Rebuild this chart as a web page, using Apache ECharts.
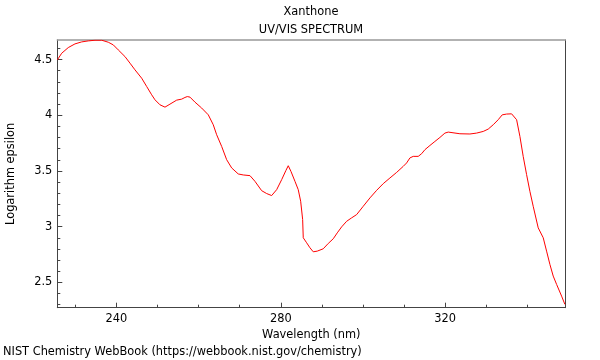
<!DOCTYPE html>
<html>
<head>
<meta charset="utf-8">
<script src="https://cdn.jsdelivr.net/npm/echarts@6/dist/echarts.min.js"></script>
<style>html,body{margin:0;padding:0;background:#fff}#c{width:600px;height:360px}</style>
</head>
<body>
<div id="c"></div>
<script>
const wavelength = [225.65,226.72,228.32,229.95,231.58,233.19,234.82,236.45,238.05,239.27,240.48,242.11,243.33,244.54,246.17,247.39,248.60,249.41,250.62,251.84,253.05,254.68,255.90,256.70,257.26,257.92,259.13,260.76,262.37,263.58,264.41,265.63,266.84,268.06,269.66,270.88,272.51,273.72,275.35,276.57,277.78,279.00,280.22,281.26,281.82,282.48,283.45,284.25,284.84,285.32,285.47,286.29,287.10,287.90,288.87,290.33,291.55,292.76,293.74,294.81,296.02,297.24,298.45,300.06,301.69,303.32,304.92,306.55,308.18,309.78,310.61,311.41,312.21,313.43,314.26,315.06,316.28,317.49,318.71,319.92,320.73,321.14,323.57,326.00,327.63,329.24,330.45,331.67,332.88,333.86,334.93,336.14,336.39,337.36,338.16,338.96,339.79,340.59,341.39,342.61,343.83,344.65,345.46,346.26,347.09,348.30,349.10];
const logEpsilon = [4.497,4.557,4.608,4.641,4.659,4.668,4.674,4.674,4.656,4.632,4.587,4.527,4.468,4.408,4.333,4.258,4.184,4.139,4.094,4.073,4.100,4.136,4.145,4.160,4.168,4.163,4.118,4.065,4.004,3.915,3.825,3.720,3.601,3.527,3.473,3.464,3.458,3.407,3.323,3.297,3.279,3.332,3.422,3.505,3.547,3.496,3.407,3.332,3.228,3.064,2.900,2.855,2.810,2.774,2.780,2.801,2.849,2.891,2.944,2.998,3.048,3.079,3.108,3.183,3.258,3.326,3.386,3.437,3.487,3.541,3.572,3.617,3.631,3.631,3.655,3.691,3.729,3.765,3.801,3.840,3.849,3.840,3.834,3.832,3.840,3.855,3.876,3.915,3.960,4.004,4.011,4.013,4.020,3.960,3.810,3.631,3.467,3.317,3.183,2.989,2.900,2.780,2.660,2.556,2.481,2.376,2.302];
const xMajorTicks = [240, 280, 320];
const xMinorTicks = [230, 250, 260, 270, 290, 300, 310, 330, 340];
const yMajorTicks = [2.5, 3, 3.5, 4, 4.5];
const yMinorTicks = [2.3, 2.4, 2.6, 2.7, 2.8, 2.9, 3.1, 3.2, 3.3, 3.4, 3.6, 3.7, 3.8, 3.9, 4.1, 4.2, 4.3, 4.4, 4.6];
const xRange = [225.65, 349.2];
const yRange = [2.272, 4.676];

const FONT = 'DejaVu Sans';
const FS = 11.4;
const chart = echarts.init(document.getElementById('c'), null, {renderer: 'canvas'});
const dark = '#444';
function xAx(extra) {
  return Object.assign({
    type: 'value', min: xRange[0], max: xRange[1], gridIndex: 0,
    splitLine: {show: false}, axisLabel: {show: false}, axisTick: {show: false},
    axisLine: {show: false, onZero: false}
  }, extra);
}
function yAx(extra) {
  return Object.assign({
    type: 'value', min: yRange[0], max: yRange[1], gridIndex: 0,
    splitLine: {show: false}, axisLabel: {show: false}, axisTick: {show: false},
    axisLine: {show: false, onZero: false}
  }, extra);
}
chart.setOption({
  animation: false,
  grid: {left: 57.3, right: 34.7, top: 40, bottom: 52.3, containLabel: false, outerBoundsMode: 'none'},
  xAxis: [
    xAx({position: 'bottom',
      axisLine: {show: true, onZero: false, lineStyle: {color: dark, width: 1}},
      axisTick: {show: true, inside: true, length: 5, lineStyle: {color: dark}, customValues: xMajorTicks},
      axisLabel: {show: true, customValues: xMajorTicks, color: '#000', fontFamily: FONT, fontSize: FS, margin: 6},
      name: 'Wavelength (nm)', nameLocation: 'middle', nameGap: 21,
      nameTextStyle: {color: '#000', fontFamily: FONT, fontSize: FS}
    }),
    xAx({position: 'bottom',
      axisTick: {show: true, inside: true, length: 3, lineStyle: {color: dark}, customValues: xMinorTicks}
    }),
    xAx({position: 'top',
      axisLine: {show: true, onZero: false, lineStyle: {color: '#999', width: 1.5}}
    })
  ],
  yAxis: [
    yAx({position: 'left',
      axisLine: {show: true, onZero: false, lineStyle: {color: dark, width: 1}},
      axisTick: {show: true, inside: true, length: 5, lineStyle: {color: dark}, customValues: yMajorTicks},
      axisLabel: {show: true, customValues: yMajorTicks, color: '#000', fontFamily: FONT, fontSize: FS, margin: 5},
      name: 'Logarithm epsilon', nameLocation: 'middle', nameGap: 41, nameRotate: 90,
      nameTextStyle: {color: '#000', fontFamily: FONT, fontSize: FS}
    }),
    yAx({position: 'left',
      axisTick: {show: true, inside: true, length: 3, lineStyle: {color: dark}, customValues: yMinorTicks}
    }),
    yAx({position: 'right',
      axisLine: {show: true, onZero: false, lineStyle: {color: dark, width: 1}}
    })
  ],
  series: [{
    type: 'line', xAxisIndex: 0, yAxisIndex: 0,
    data: wavelength.map((w, i) => [w, logEpsilon[i]]),
    showSymbol: false, symbol: 'none', smooth: false,
    lineStyle: {color: '#ff0000', width: 1},
    clip: true
  }],
  graphic: [
    {type: 'text', x: 311, y: 12, style: {text: 'Xanthone', fill: '#000', font: FS + 'px "DejaVu Sans"', textAlign: 'center', textVerticalAlign: 'middle'}},
    {type: 'text', x: 311, y: 30, style: {text: 'UV/VIS SPECTRUM', fill: '#000', font: FS + 'px "DejaVu Sans"', textAlign: 'center', textVerticalAlign: 'middle'}},
    {type: 'text', x: 3, y: 352, style: {text: 'NIST Chemistry WebBook (https://webbook.nist.gov/chemistry)', fill: '#000', font: FS + 'px "DejaVu Sans"', textAlign: 'left', textVerticalAlign: 'middle'}}
  ]
});
</script>
</body>
</html>
